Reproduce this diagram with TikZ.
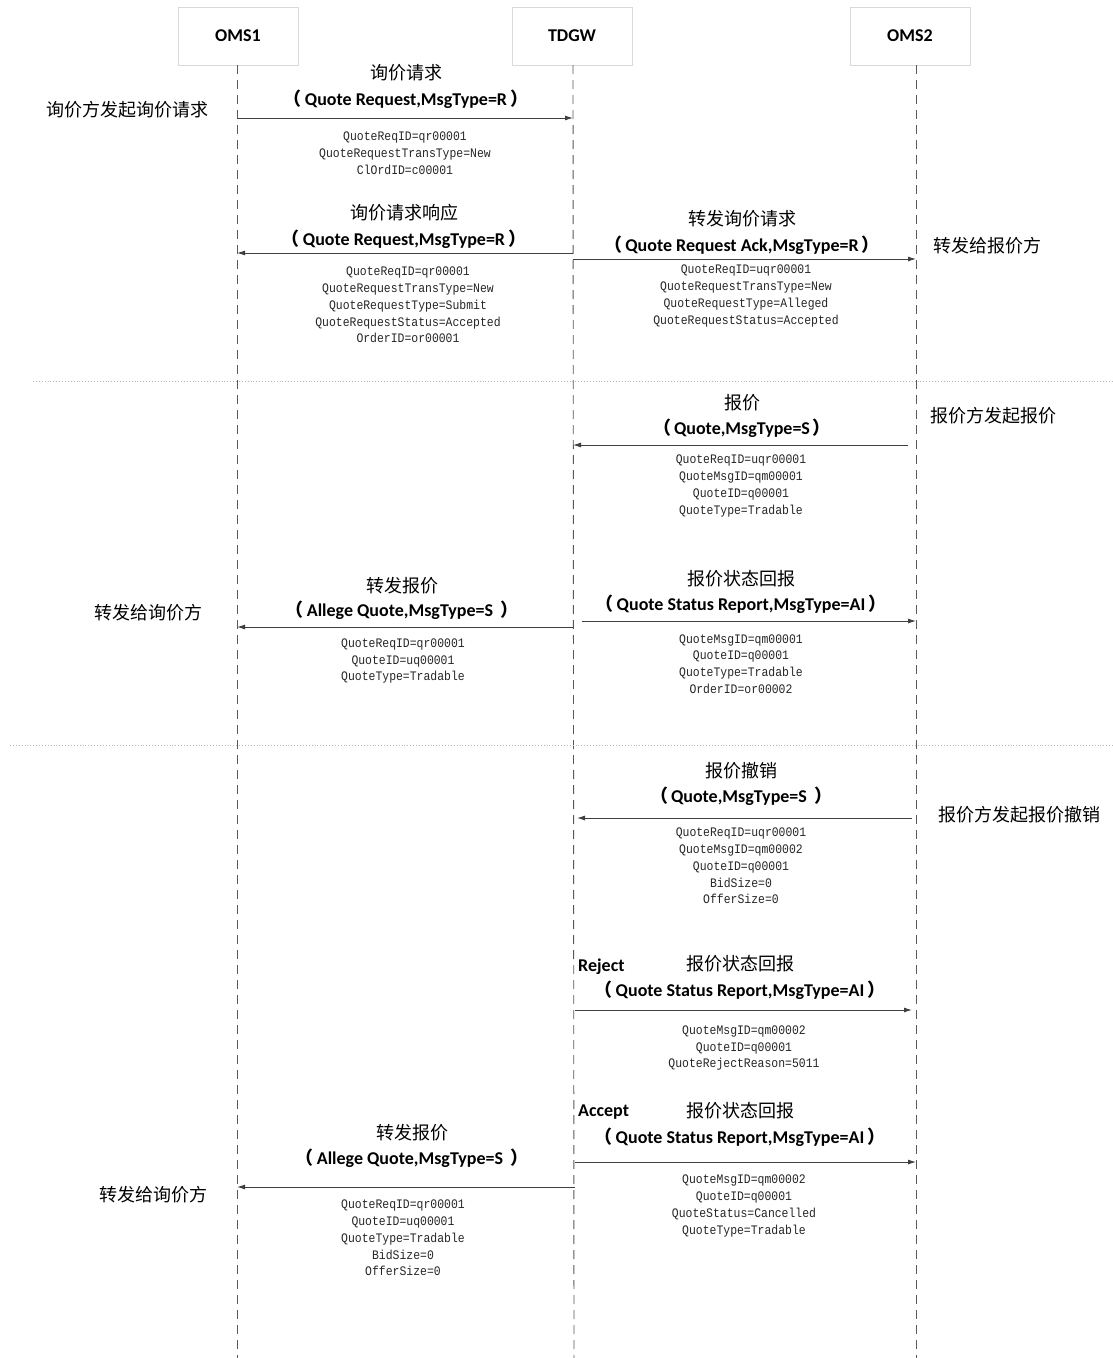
\documentclass[tikz,border=0pt]{standalone}
\usepackage{fontspec}
\setmainfont{Carlito}
\newfontfamily\cjk{Noto Sans CJK SC}
\newfontfamily\pmono[FakeStretch=0.88]{Liberation Mono}
\usetikzlibrary{arrows.meta}
\newcommand{\lp}{{\cjk （}\hspace{3pt}}
\newcommand{\rp}{\hspace{3pt}{\cjk ）}}
\tikzset{
  head/.style={draw=gray!30, fill=white, minimum width=120pt, minimum height=58pt, inner sep=0pt, font=\bfseries\fontsize{18}{20}\selectfont, line width=0.8pt},
  life/.style={draw=black!65, dash pattern=on 9pt off 6pt, line width=0.9pt},
  msg/.style={draw=black!75, line width=0.9pt, -{Latex[length=8pt,width=5pt]}},
  cn/.style={font=\cjk\fontsize{18}{20}\selectfont, inner sep=0pt},
  en/.style={font=\bfseries\fontsize{18}{20}\selectfont, inner sep=0pt},
  side/.style={font=\cjk\fontsize{18}{20}\selectfont, inner sep=0pt},
  param/.style={font=\pmono\fontsize{13}{16.8}\selectfont, align=center, inner sep=0pt, text=black!85},
  sepline/.style={draw=gray!55, dotted, line width=0.9pt},
}
\begin{document}
\begin{tikzpicture}[x=1pt,y=-1pt]
\useasboundingbox[fill=white] (0,0) rectangle (1113,1358);

% heads
\node[head] (oms1) at (238,36) {OMS1};
\node[head] (tdgw) at (572,36) {TDGW};
\node[head] (oms2) at (910,36) {OMS2};

% lifelines
\coordinate (a0) at (237,65);  \coordinate (a1) at (237,1358);
\coordinate (b0) at (573,65);  \coordinate (b1) at (574,1358);
\coordinate (c0) at (916,65);  \coordinate (c1) at (916,1358);
\draw[life] (a0) -- (a1);
\draw[life] (b0) -- (b1);
\draw[life] (c0) -- (c1);

% separators
\coordinate (s1a) at (33,381); \coordinate (s1b) at (1113,381);
\coordinate (s2a) at (10,745); \coordinate (s2b) at (1113,745);
\draw[sepline] (s1a) -- (s1b);
\draw[sepline] (s2a) -- (s2b);

% ---- message 1
\node[cn] (t1) at (406,73) {询价请求};
\node[en] (e1) at (406,99) {\lp Quote Request,MsgType=R\rp};
\coordinate (m1s) at (237,118); \coordinate (m1e) at (573,118);
\draw[msg] (m1s) -- (m1e);
\node[param] (p1) at (405,153) {QuoteReqID=qr00001\\QuoteRequestTransType=New\\ClOrdID=c00001};
\node[side] (l1) at (127,110) {询价方发起询价请求};

% ---- message 2
\node[cn] (t2) at (404,213) {询价请求响应};
\node[en] (e2) at (404,239) {\lp Quote Request,MsgType=R\rp};
\coordinate (m2s) at (573,253); \coordinate (m2e) at (237,253);
\draw[msg] (m2s) -- (m2e);
\node[param] (p2) at (408,305) {QuoteReqID=qr00001\\QuoteRequestTransType=New\\QuoteRequestType=Submit\\QuoteRequestStatus=Accepted\\OrderID=or00001};

% ---- message 3
\node[cn] (t3) at (742,219) {转发询价请求};
\node[en] (e3) at (742,245) {\lp Quote Request Ack,MsgType=R\rp};
\coordinate (m3s) at (573,259); \coordinate (m3e) at (916,259);
\draw[msg] (m3s) -- (m3e);
\node[param] (p3) at (746,296) {QuoteReqID=uqr00001\\QuoteRequestTransType=New\\QuoteRequestType=Alleged\\QuoteRequestStatus=Accepted};
\node[side] (l3) at (987,246) {转发给报价方};

% ---- message 4
\node[cn] (t4) at (742,403) {报价};
\node[en] (e4) at (742,428) {\lp Quote,MsgType=S\rp};
\coordinate (m4s) at (908,445); \coordinate (m4e) at (573,445);
\draw[msg] (m4s) -- (m4e);
\node[param] (p4) at (741,486) {QuoteReqID=uqr00001\\QuoteMsgID=qm00001\\QuoteID=q00001\\QuoteType=Tradable};
\node[side] (l4) at (993,416) {报价方发起报价};

% ---- message 5
\node[cn] (t5) at (741,579) {报价状态回报};
\node[en] (e5) at (741,604) {\lp Quote Status Report,MsgType=AI\rp};
\coordinate (m5s) at (582,621); \coordinate (m5e) at (916,621);
\draw[msg] (m5s) -- (m5e);
\node[param] (p5) at (741,664) {QuoteMsgID=qm00001\\QuoteID=q00001\\QuoteType=Tradable\\OrderID=or00002};

% ---- message 6
\node[cn] (t6) at (402,586) {转发报价};
\node[en] (e6) at (402,610) {\lp Allege Quote,MsgType=S \rp};
\coordinate (m6s) at (573,627); \coordinate (m6e) at (237,627);
\draw[msg] (m6s) -- (m6e);
\node[param] (p6) at (403,661) {QuoteReqID=qr00001\\QuoteID=uq00001\\QuoteType=Tradable};
\node[side] (l6) at (148,613) {转发给询价方};

% ---- message 7
\node[cn] (t7) at (741,771) {报价撤销};
\node[en] (e7) at (741,796) {\lp Quote,MsgType=S \rp};
\coordinate (m7s) at (912,818); \coordinate (m7e) at (577,818);
\draw[msg] (m7s) -- (m7e);
\node[param] (p7) at (741,866) {QuoteReqID=uqr00001\\QuoteMsgID=qm00002\\QuoteID=q00001\\BidSize=0\\OfferSize=0};
\node[side] (l7) at (1019,815) {报价方发起报价撤销};

% ---- message 8
\node[en, anchor=west] (r8) at (578,967) {Reject};
\node[cn] (t8) at (740,964) {报价状态回报};
\node[en] (e8) at (740,990) {\lp Quote Status Report,MsgType=AI\rp};
\coordinate (m8s) at (575,1010); \coordinate (m8e) at (912,1010);
\draw[msg] (m8s) -- (m8e);
\node[param] (p8) at (744,1048) {QuoteMsgID=qm00002\\QuoteID=q00001\\QuoteRejectReason=5011};

% ---- message 9
\node[en, anchor=west] (r9) at (578,1112) {Accept};
\node[cn] (t9) at (740,1111) {报价状态回报};
\node[en] (e9) at (740,1137) {\lp Quote Status Report,MsgType=AI\rp};
\coordinate (m9s) at (575,1162); \coordinate (m9e) at (916,1162);
\draw[msg] (m9s) -- (m9e);
\node[param] (p9) at (744,1206) {QuoteMsgID=qm00002\\QuoteID=q00001\\QuoteStatus=Cancelled\\QuoteType=Tradable};

% ---- message 10
\node[cn] (t10) at (412,1133) {转发报价};
\node[en] (e10) at (412,1158) {\lp Allege Quote,MsgType=S \rp};
\coordinate (m10s) at (575,1187); \coordinate (m10e) at (237,1187);
\draw[msg] (m10s) -- (m10e);
\node[param] (p10) at (403,1238) {QuoteReqID=qr00001\\QuoteID=uq00001\\QuoteType=Tradable\\BidSize=0\\OfferSize=0};
\node[side] (l10) at (153,1195) {转发给询价方};

\end{tikzpicture}
\end{document}
